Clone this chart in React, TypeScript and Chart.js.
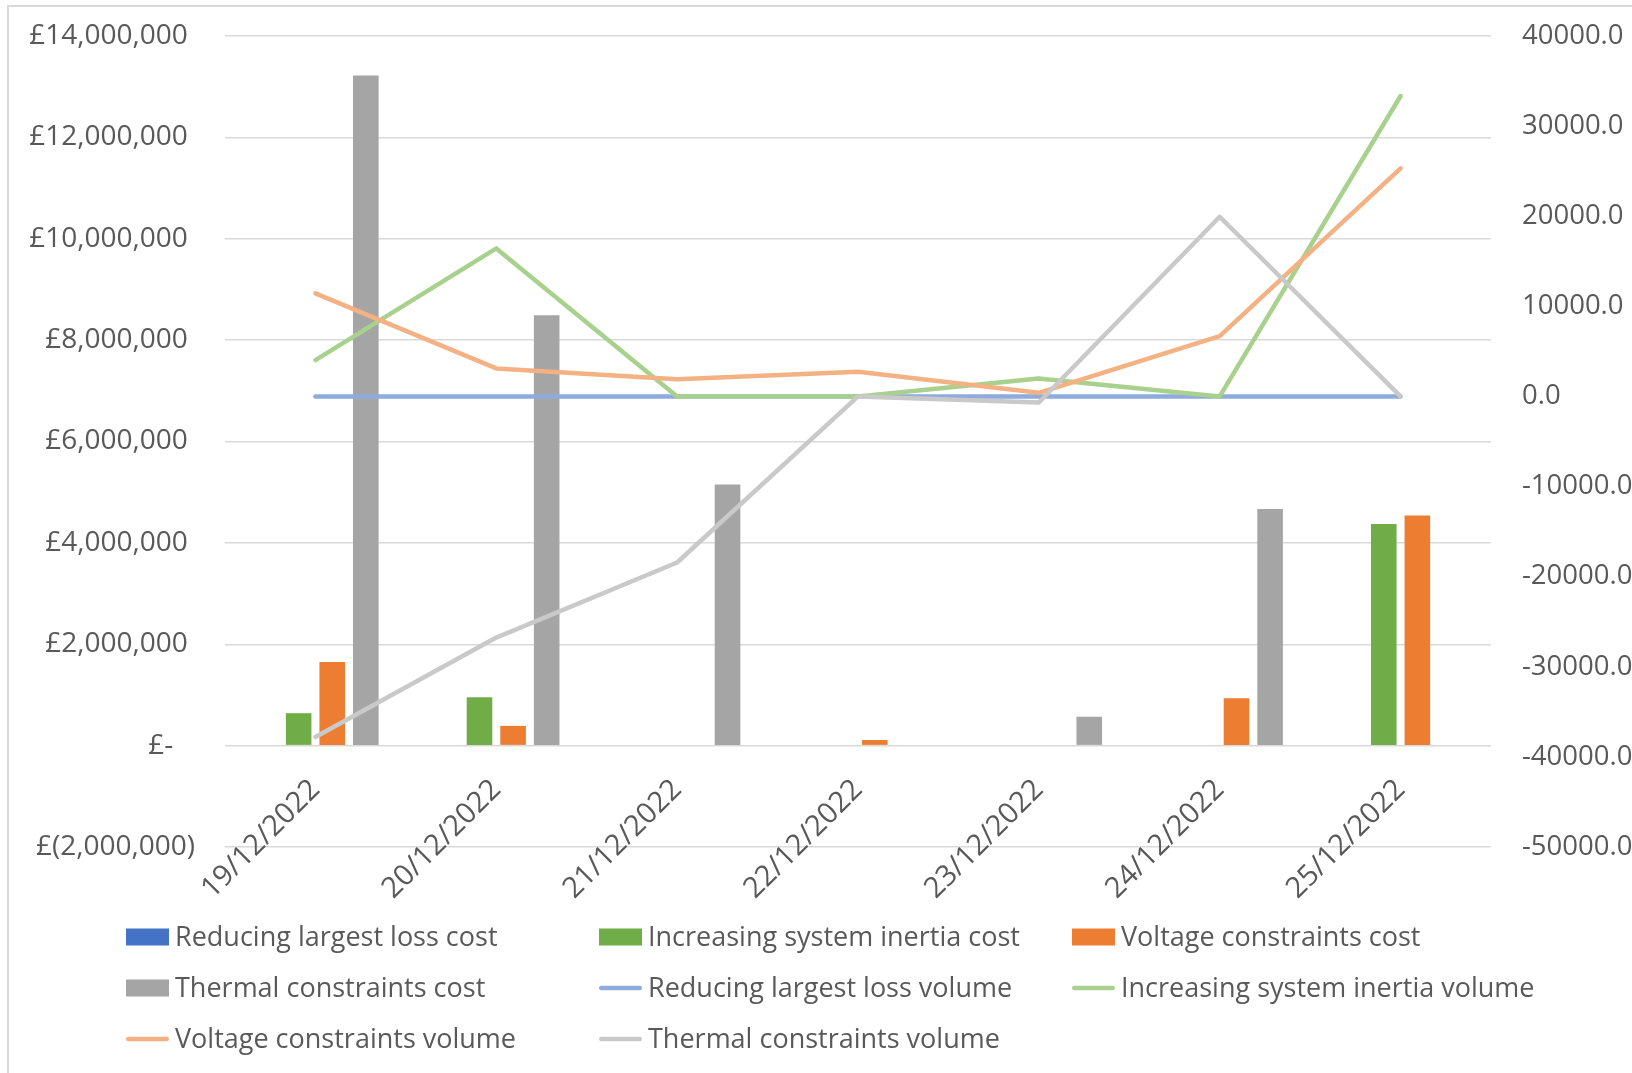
import React, { useEffect, useRef } from 'react';
import { Chart, registerables } from 'chart.js';

Chart.register(...registerables);

// Days covered
const categories = [
  '19/12/2022',
  '20/12/2022',
  '21/12/2022',
  '22/12/2022',
  '23/12/2022',
  '24/12/2022',
  '25/12/2022',
];

// Costs (£), left axis
const reducingLossCost = [0, 0, 0, 0, 0, 0, 0];
const inertiaCost = [640000, 955000, 0, 0, 0, 0, 4370000];
const voltageCost = [1650000, 390000, 0, 110000, 0, 935000, 4540000];
const thermalCost = [13220000, 8490000, 5150000, 0, 570000, 4670000, 0];

// Volumes, right axis
const reducingLossVolume = [0, 0, 0, 0, 0, 0, 0];
const inertiaVolume = [4030, 16430, 0, 0, 2000, 0, 33340];
const voltageVolume = [11430, 3110, 1920, 2730, 400, 6690, 25310];
const thermalVolume = [-37790, -26760, -18430, 0, -670, 19940, 0];

// Axis ranges
const costTicks = { min: -2000000, max: 14000000, step: 2000000 };
const volumeTicks = { min: -50000, max: 40000, step: 10000 };

const FONT = '"Open Sans", "Noto Sans", sans-serif';
const TEXT = '#595959';

// Accounting-style pound formatting
const formatPounds = (v: number) => {
  if (v === 0) return '£-   ';
  const s = Math.abs(v).toLocaleString('en-GB');
  return v < 0 ? `£(${s})` : `£${s} `;
};

// Fix a vertical axis' width and keep its tick padding from pushing the plot area inwards
const fitVertical = (width: number) => (s: any) => {
  s.width = width;
  s.paddingTop = 0;
  s.paddingBottom = 0;
};

// Legend laid out in a fixed three-column grid below the plot
const gridLegend = {
  id: 'gridLegend',
  afterDraw(chart: any, _args: any, opts: any) {
    const ctx = chart.ctx as CanvasRenderingContext2D;
    const { columns, rows, swatchWidth, swatchHeight, lineWidth, textGap, font, color } = opts;
    ctx.save();
    ctx.font = font;
    ctx.textBaseline = 'middle';
    ctx.textAlign = 'left';
    chart.data.datasets.forEach((ds: any, i: number) => {
      const col = i % columns.length;
      const row = Math.floor(i / columns.length);
      const x = columns[col];
      const y = rows[row];
      if (ds.type === 'line') {
        ctx.strokeStyle = ds.borderColor;
        ctx.lineWidth = lineWidth;
        ctx.lineCap = 'round';
        ctx.beginPath();
        ctx.moveTo(x + lineWidth / 2, y);
        ctx.lineTo(x + swatchWidth - lineWidth / 2, y);
        ctx.stroke();
      } else {
        ctx.fillStyle = ds.backgroundColor;
        ctx.fillRect(x, y - swatchHeight / 2, swatchWidth, swatchHeight);
      }
      ctx.fillStyle = color;
      ctx.fillText(ds.label, x + textGap, y + 1);
    });
    ctx.restore();
  },
};

const lineStyle = {
  type: 'line' as const,
  yAxisID: 'y1',
  borderWidth: 4.5,
  pointRadius: 0,
  pointHoverRadius: 0,
  tension: 0,
  fill: false,
  borderJoinStyle: 'round' as const,
  borderCapStyle: 'round' as const,
};

export default function App() {
  const ref = useRef<HTMLCanvasElement>(null);

  useEffect(() => {
    let chart: Chart | null = null;
    let cancelled = false;

    const build = () => {
      if (cancelled || !ref.current) return;
      chart = new Chart(ref.current, {
        type: 'bar',
        data: {
          labels: categories,
          datasets: [
            { type: 'bar', label: 'Reducing largest loss cost', data: reducingLossCost, backgroundColor: '#4472C4', yAxisID: 'y', order: 10 },
            { type: 'bar', label: 'Increasing system inertia cost', data: inertiaCost, backgroundColor: '#70AD47', yAxisID: 'y', order: 10 },
            { type: 'bar', label: 'Voltage constraints cost', data: voltageCost, backgroundColor: '#ED7D31', yAxisID: 'y', order: 10 },
            { type: 'bar', label: 'Thermal constraints cost', data: thermalCost, backgroundColor: '#A5A5A5', yAxisID: 'y', order: 10 },
            { ...lineStyle, label: 'Reducing largest loss volume', data: reducingLossVolume, borderColor: '#8FAADC', order: 4 },
            { ...lineStyle, label: 'Increasing system inertia volume', data: inertiaVolume, borderColor: '#A9D18E', order: 3 },
            { ...lineStyle, label: 'Voltage constraints volume', data: voltageVolume, borderColor: '#F4B183', order: 2 },
            { ...lineStyle, label: 'Thermal constraints volume', data: thermalVolume, borderColor: '#C9C9C9', order: 1 },
          ] as any,
        },
        options: {
          responsive: false,
          animation: false,
          devicePixelRatio: 1,
          layout: { padding: { top: 36, bottom: 226, left: 0, right: 0 } },
          datasets: {
            bar: { categoryPercentage: 0.743, barPercentage: 0.762 },
          },
          scales: {
            x: {
              axis: 'x',
              position: { y: 0 } as any,
              offset: true,
              grid: { display: false, drawTicks: false },
              border: { display: false },
              ticks: {
                autoSkip: false,
                minRotation: 45,
                maxRotation: 45,
                padding: 27,
                color: TEXT,
                font: { family: FONT, size: 29 },
              },
            },
            y: {
              position: 'left',
              min: costTicks.min,
              max: costTicks.max,
              afterFit: fitVertical(225),
              grid: { color: '#D9D9D9', lineWidth: 1.5, drawTicks: false },
              border: { display: false },
              ticks: {
                stepSize: costTicks.step,
                padding: 30,
                color: TEXT,
                font: { family: FONT, size: 28 },
                callback: (v: any) => formatPounds(Number(v)),
              },
            },
            y1: {
              position: 'right',
              min: volumeTicks.min,
              max: volumeTicks.max,
              afterFit: fitVertical(141),
              grid: { display: false, drawTicks: false },
              border: { display: false },
              ticks: {
                stepSize: volumeTicks.step,
                padding: 31,
                color: TEXT,
                font: { family: FONT, size: 27.5 },
                callback: (v: any) => Number(v).toFixed(1),
              },
            },
          },
          plugins: {
            legend: { display: false },
            tooltip: { enabled: false },
            gridLegend: {
              columns: [126, 599, 1072],
              rows: [937, 988, 1039],
              swatchWidth: 43,
              swatchHeight: 17,
              lineWidth: 4.5,
              textGap: 49,
              font: `27px ${FONT}`,
              color: TEXT,
            },
          } as any,
        },
        plugins: [gridLegend],
      });
    };

    const fonts = (document as any).fonts;
    if (fonts && fonts.load) {
      fonts.load(`26px ${FONT}`).then(build, build);
    } else {
      build();
    }

    return () => {
      cancelled = true;
      if (chart) chart.destroy();
    };
  }, []);

  return (
    <div style={{ position: 'fixed', inset: 0, overflow: 'hidden', background: '#ffffff' }}>
      <div
        style={{
          position: 'absolute',
          left: 7,
          top: 5,
          width: 4000,
          height: 4000,
          border: '2px solid #D9D9D9',
        }}
      />
      <canvas
        ref={ref}
        width={1632}
        height={1073}
        style={{ position: 'absolute', left: 0, top: 0, width: 1632, height: 1073 }}
      />
    </div>
  );
}
